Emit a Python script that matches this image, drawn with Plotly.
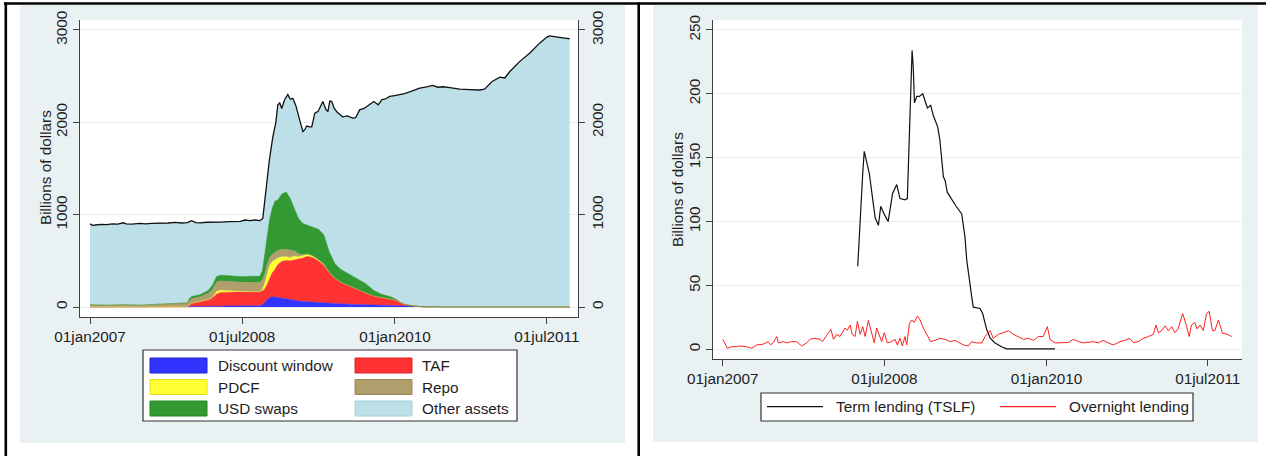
import pandas as pd
import plotly.graph_objects as go

W, H = 1266, 456
BASE = pd.Timestamp("2007-01-01")  # day offsets below are days since 01jan2007

# ---------------- Left panel: Fed balance sheet (billions of dollars) ----------------
total_day = [
    0, 10, 20, 40, 60, 80, 100, 119, 130, 150,
    180, 200, 220, 250, 280, 305, 330, 350, 365, 380,
    395, 420, 450, 470, 500, 540, 557, 575, 593, 611,
    621, 628, 636, 645, 657, 668, 675, 682, 689, 700,
    711, 720, 729, 740, 747, 755, 765, 772, 779, 790,
    797, 808, 820, 837, 848, 855, 862, 869, 878, 887,
    908, 925, 944, 955, 969, 985, 1005, 1020, 1036, 1049,
    1060, 1077, 1095, 1113, 1130, 1149, 1165, 1185, 1210, 1232,
    1250, 1270, 1293, 1329, 1365, 1400, 1418, 1444, 1473, 1491,
    1509, 1545, 1581, 1617, 1641, 1652, 1663, 1690, 1713, 1724,
]
total_assets = [
    900, 885, 888, 895, 893, 900, 897, 912, 900, 898,
    905, 900, 906, 905, 910, 917, 910, 915, 935, 915,
    912, 918, 924, 920, 925, 928, 942, 935, 942, 935,
    960, 1150, 1355, 1600, 1840, 2000, 2190, 2210, 2150, 2250,
    2300, 2250, 2260, 2180, 2100, 2000, 1900, 1920, 1960, 1950,
    1950, 2100, 2120, 2225, 2140, 2115, 2230, 2225, 2150, 2115,
    2060, 2070, 2045, 2050, 2135, 2150, 2190, 2225, 2190, 2245,
    2250, 2280, 2290, 2300, 2310, 2330, 2345, 2370, 2385, 2400,
    2380, 2385, 2375, 2360, 2355, 2350, 2360, 2440, 2490, 2480,
    2550, 2660, 2750, 2860, 2920, 2935, 2930, 2915, 2910, 2905,
]

comp_day = [
    0, 60, 120, 180, 240, 300, 340,
    350, 356, 365, 395, 425, 440, 455, 470, 490, 520,
    550, 580, 610, 620, 628, 636, 645, 655, 665, 675,
    690, 705, 720, 735, 750, 765, 780, 800, 820, 840,
    860, 880, 900, 930, 960, 990, 1020, 1050, 1080, 1100,
    1115, 1130, 1150, 1170, 1200, 1230, 1240, 1260, 1400, 1724,
]
discount_window = [
    0, 0, 0, 0, 0, 0, 0,
    0, 0, 0, 0, 0, 0, 0, 8, 12, 12,
    12, 14, 15, 25, 45, 75, 100, 110, 108, 100,
    95, 90, 80, 70, 65, 60, 60, 55, 50, 45,
    42, 40, 35, 30, 28, 25, 20, 15, 12, 10,
    8, 5, 3, 1, 0, 0, 0, 0, 0, 0,
]
taf = [
    0, 0, 0, 0, 0, 0, 0,
    0, 20, 40, 60, 80, 100, 140, 150, 150, 150,
    150, 150, 150, 150, 150, 165, 200, 260, 300, 360,
    400, 415, 420, 440, 450, 470, 490, 480, 450, 410,
    330, 270, 235, 200, 170, 130, 100, 90, 80, 65,
    40, 25, 15, 8, 0, 0, 0, 0, 0, 0,
]
pdcf = [
    0, 0, 0, 0, 0, 0, 0,
    0, 0, 0, 0, 0, 0, 30, 25, 15, 10,
    5, 2, 0, 20, 60, 110, 147, 120, 100, 70,
    50, 40, 35, 40, 30, 25, 25, 20, 15, 10,
    5, 2, 0, 0, 0, 0, 0, 0, 0, 0,
    0, 0, 0, 0, 0, 0, 0, 0, 0, 0,
]
repo = [
    25, 20, 25, 20, 30, 35, 45,
    45, 45, 50, 50, 70, 90, 100, 100, 100, 100,
    100, 100, 100, 100, 100, 100, 90, 80, 80, 80,
    80, 80, 80, 60, 30, 10, 0, 0, 0, 0,
    0, 0, 0, 0, 0, 0, 0, 0, 0, 0,
    0, 0, 0, 0, 0, 0, 0, 0, 0, 0,
]
usd_swaps = [
    0, 0, 0, 0, 0, 0, 0,
    0, 20, 24, 24, 30, 45, 60, 62, 62, 62,
    62, 67, 67, 100, 200, 300, 400, 500, 560, 550,
    600, 620, 560, 450, 380, 340, 310, 310, 330, 320,
    220, 160, 140, 130, 110, 100, 60, 30, 20, 10,
    3, 0, 0, 0, 0, 0, 6, 0, 0, 0,
]

# ---------------- Right panel: lending (billions of dollars) ----------------
tslf_day = [
    457, 465, 474, 479, 485, 496, 508, 516, 527, 535,
    546, 560, 575, 589, 600, 617, 625, 631, 636, 641,
    645, 649, 657, 666, 677, 685, 693, 704, 713, 728,
    735, 747, 753, 760, 775, 790, 809, 820, 826, 835,
    843, 848, 871, 880, 893, 905, 922, 944, 961, 1125,
]
tslf = [
    65, 104, 138, 155, 148, 138, 117, 103, 97, 112,
    106, 100, 122, 129, 118, 117, 118, 169, 203, 234,
    221, 193, 198, 198, 200, 195, 189, 191, 183, 174,
    164, 135, 132, 123, 117, 112, 106, 88, 70, 52,
    41, 33, 32, 28, 16, 9, 5, 2, 0.3, 0.3,
]
ovn_day = [
    0, 16, 30, 47, 58, 81, 98, 115, 137, 154,
    162, 171, 183, 188, 205, 216, 234, 250, 267, 284,
    296, 312, 329, 338, 352, 366, 375, 386, 397, 408,
    414, 422, 431, 438, 448, 456, 465, 474, 482, 493,
    504, 513, 521, 530, 538, 547, 557, 572, 583, 591,
    600, 608, 617, 623, 632, 640, 648, 659, 668, 679,
    691, 704, 719, 735, 753, 770, 786, 801, 815, 832,
    843, 860, 877, 888, 905, 916, 933, 950, 967, 984,
    1001, 1018, 1035, 1052, 1069, 1085, 1099, 1108, 1125, 1148,
    1170, 1187, 1204, 1221, 1238, 1255, 1271, 1288, 1305, 1322,
    1345, 1362, 1377, 1390, 1407, 1424, 1441, 1458, 1467, 1475,
    1486, 1497, 1509, 1520, 1531, 1542, 1557, 1568, 1579, 1587,
    1598, 1606, 1616, 1627, 1638, 1647, 1658, 1666, 1678, 1692,
    1706, 1723,
]
overnight = [
    7.8, 0.8, 2, 2, 2.6, 2, 0.8, 3.4, 4, 6,
    3.4, 5.3, 10, 5, 6, 5, 6, 6, 2.6, 5,
    7.8, 8.6, 7.8, 6, 11, 15.6, 7.8, 11.7, 10, 15,
    16.7, 15, 19, 11.7, 10, 21.9, 11.7, 17.7, 10, 22.6,
    11.7, 5, 16.7, 10, 6, 13, 5, 6, 7.8, 3.4,
    8.6, 2.6, 10, 3.4, 20, 23, 21, 26, 23, 16.7,
    11.7, 6, 7, 8.6, 7.8, 6, 7, 5, 3.4, 2.6,
    6, 5, 5, 10, 14.6, 8.6, 11.7, 13, 14.6, 11.7,
    10, 7.8, 8.6, 7, 10, 10, 17.7, 7.8, 5, 5.3,
    5.3, 7.8, 6, 5, 5.3, 6, 5, 7, 5, 3.4,
    6, 7, 8.6, 5.3, 6, 8.6, 10, 11.7, 19, 13,
    14.6, 18.3, 14.6, 17.7, 13, 16, 28, 20, 10, 19,
    21, 16, 19, 14.6, 28, 29.7, 14.6, 14.6, 23, 12.5,
    12, 10,
]

date_ticks = ["2007-01-01", "2008-07-01", "2010-01-01", "2011-07-01"]
date_ticktext = ["01jan2007", "01jul2008", "01jan2010", "01jul2011"]
left_yticks = [0, 1000, 2000, 3000]
right_yticks = [0, 50, 100, 150, 200, 250]

left_legend = ["Discount window", "TAF", "PDCF", "Repo", "USD swaps", "Other assets"]
right_legend = ["Term lending (TSLF)", "Overnight lending"]

# ---------------- styling ----------------
C_DW, C_TAF, C_PDCF, C_REPO, C_SWAP, C_OTHER = (
    "#3333ff", "#ff3333", "#ffff33", "#b09f6c", "#339933", "#bddfe7")
PANEL = "#eaf1f3"
GRID = "#e4edf0"
AX = "#404040"
TXT = "#1e1e1e"
FONT = "Liberation Sans, Arial, sans-serif"
FS = 15.3


def to_dates(days):
    return BASE + pd.to_timedelta(days, unit="D")


def px(x):
    return x / W


def py(y):
    return 1 - y / H


fig = go.Figure()

# Left: total assets (other assets area + black outline)
fig.add_trace(go.Scatter(
    x=to_dates(total_day), y=total_assets, mode="lines", fill="tozeroy",
    fillcolor=C_OTHER, line=dict(color="#111111", width=1.3),
    name=left_legend[5], xaxis="x", yaxis="y", hoverinfo="skip"))

comp_dates = to_dates(comp_day)
for name, vals, col in [
    (left_legend[0], discount_window, C_DW),
    (left_legend[1], taf, C_TAF),
    (left_legend[2], pdcf, C_PDCF),
    (left_legend[3], repo, C_REPO),
    (left_legend[4], usd_swaps, C_SWAP),
]:
    fig.add_trace(go.Scatter(
        x=comp_dates, y=vals, mode="lines", stackgroup="fed",
        line=dict(color=col, width=0.5), fillcolor=col, name=name,
        xaxis="x", yaxis="y", hoverinfo="skip"))

# invisible helper so the right-hand axis of the left panel is drawn
fig.add_trace(go.Scatter(
    x=to_dates(total_day[:1]), y=total_assets[:1], mode="markers",
    marker=dict(opacity=0), xaxis="x", yaxis="y3", hoverinfo="skip"))

# Right panel lines
fig.add_trace(go.Scatter(
    x=to_dates(tslf_day), y=tslf, mode="lines", name=right_legend[0],
    line=dict(color="#111111", width=1.2), xaxis="x2", yaxis="y2", hoverinfo="skip"))
fig.add_trace(go.Scatter(
    x=to_dates(ovn_day), y=overnight, mode="lines", name=right_legend[1],
    line=dict(color="#ff2020", width=1.0), xaxis="x2", yaxis="y2", hoverinfo="skip"))

tickfont = dict(family=FONT, size=FS, color=TXT)
xcommon = dict(type="date", tickvals=date_ticks, ticktext=date_ticktext,
               ticks="outside", ticklen=6, tickwidth=1, tickcolor=AX,
               showline=True, linecolor=AX, linewidth=1, showgrid=False,
               zeroline=False, tickfont=tickfont, fixedrange=True, automargin=False)
ycommon = dict(ticks="outside", ticklen=6, tickwidth=1, tickcolor=AX,
               showline=True, linecolor=AX, linewidth=1, tickangle=-90,
               zeroline=False, tickfont=tickfont, fixedrange=True, automargin=False)

shapes = []
# panel backgrounds
for x0, x1, y0, y1 in [(20, 625, 5, 443), (653, 1258, 5, 442)]:
    shapes.append(dict(type="rect", xref="paper", yref="paper", layer="below",
                       x0=px(x0), x1=px(x1), y0=py(y1), y1=py(y0),
                       fillcolor=PANEL, line=dict(width=0)))
for x0, x1, y0, y1 in [(80, 578, 20, 317), (713, 1242, 20, 359)]:
    shapes.append(dict(type="rect", xref="paper", yref="paper", layer="below",
                       x0=px(x0), x1=px(x1), y0=py(y1), y1=py(y0),
                       fillcolor="white", line=dict(width=0)))
# table frame lines
shapes.append(dict(type="line", xref="paper", yref="paper", x0=px(4), x1=1,
                   y0=py(3.5), y1=py(3.5), line=dict(color="black", width=2.5)))
for xx in (5.8, 638.7):
    shapes.append(dict(type="line", xref="paper", yref="paper", x0=px(xx), x1=px(xx),
                       y0=py(2.5), y1=0, line=dict(color="black", width=2.6)))

annotations = []
# axis titles
for xx, yy in [(45, 168), (677, 189)]:
    annotations.append(dict(text="Billions of dollars", xref="paper", yref="paper",
                            x=px(xx), y=py(yy), textangle=-90, showarrow=False,
                            xanchor="center", yanchor="middle",
                            font=dict(family=FONT, size=FS, color=TXT)))

# left manual legend (Stata style, two columns)
shapes.append(dict(type="rect", xref="paper", yref="paper", x0=px(143), x1=px(517),
                   y0=py(421), y1=py(350), fillcolor="white",
                   line=dict(color="#333333", width=1.2)))
leg_cols = [C_DW, C_TAF, C_PDCF, C_REPO, C_SWAP, C_OTHER]
edge_cols = ["#2020d0", "#e02020", "#e0e020", "#988858", "#228822", "#a8cfd9"]
row_y = [365.5, 387, 408.5]
for i, lab in enumerate(left_legend):
    r, c = divmod(i, 2)
    sx0 = 150 if c == 0 else 355
    tx = 216 if c == 0 else 420
    yc = row_y[r]
    shapes.append(dict(type="rect", xref="paper", yref="paper",
                       x0=px(sx0), x1=px(sx0 + 57), y0=py(yc + 7.5), y1=py(yc - 7.5),
                       fillcolor=leg_cols[i], line=dict(color=edge_cols[i], width=1)))
    annotations.append(dict(text=lab, xref="paper", yref="paper", x=px(tx), y=py(yc),
                            xanchor="left", yanchor="middle", showarrow=False,
                            font=dict(family=FONT, size=FS, color=TXT)))

# right manual legend
shapes.append(dict(type="rect", xref="paper", yref="paper", x0=px(761), x1=px(1193),
                   y0=py(421), y1=py(393), fillcolor="white",
                   line=dict(color="#333333", width=1.2)))
for (lx0, tx), col, lab in zip([(767, 834), (1000, 1067)], ["#111111", "#ff2020"], right_legend):
    shapes.append(dict(type="line", xref="paper", yref="paper", x0=px(lx0), x1=px(lx0 + 56),
                       y0=py(406.7), y1=py(406.7), line=dict(color=col, width=1.2)))
    annotations.append(dict(text=lab, xref="paper", yref="paper", x=px(tx), y=py(406.7),
                            xanchor="left", yanchor="middle", showarrow=False,
                            font=dict(family=FONT, size=FS, color=TXT)))

fig.update_layout(
    width=W, height=H, margin=dict(l=0, r=0, t=0, b=0, pad=0, autoexpand=False),
    paper_bgcolor="white", plot_bgcolor="rgba(0,0,0,0)",
    showlegend=False, font=dict(family=FONT, size=FS, color=TXT),
    xaxis=dict(domain=[px(80), px(578)], anchor="y",
               range=[to_dates([-36])[0], to_dates([1754])[0]], **xcommon),
    yaxis=dict(domain=[py(317), py(20)], anchor="x", range=[-108, 3108],
               tickvals=left_yticks, showgrid=True, gridcolor=GRID, gridwidth=1, **ycommon),
    yaxis3=dict(overlaying="y", side="right", anchor="x", range=[-108, 3108],
                tickvals=left_yticks, showgrid=False, **ycommon),
    xaxis2=dict(domain=[px(713), px(1242)], anchor="y2",
                range=[to_dates([-33])[0], to_dates([1758])[0]], **xcommon),
    yaxis2=dict(domain=[py(359), py(20)], anchor="x2", range=[-7.6, 257.8],
                tickvals=right_yticks, showgrid=True, gridcolor=GRID, gridwidth=1, **ycommon),
    shapes=shapes, annotations=annotations,
)

fig.write_html(
    "out.html",
    config={"displayModeBar": False},
    post_script="document.body.style.margin='0';document.body.style.padding='0';",
)
